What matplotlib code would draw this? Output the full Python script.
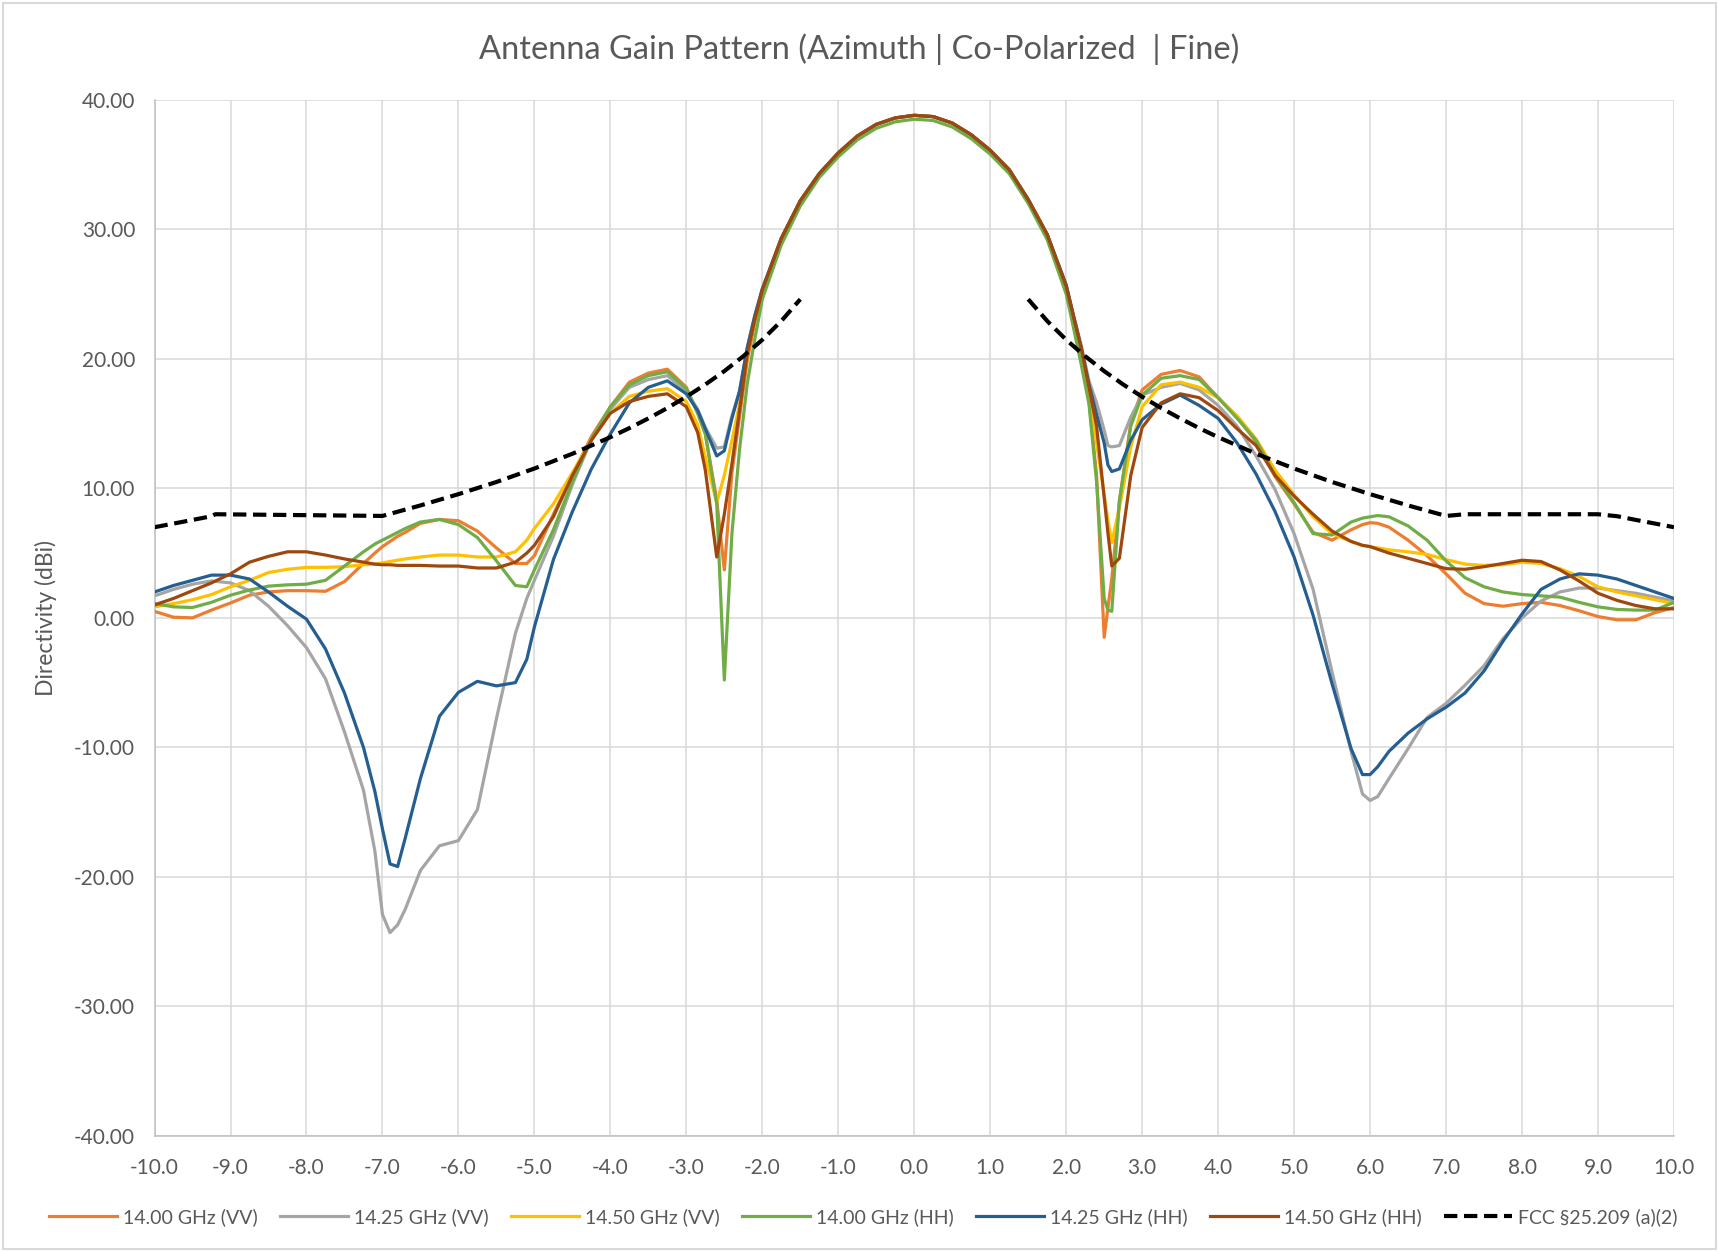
import numpy as np
import matplotlib
matplotlib.use("Agg")
import matplotlib.pyplot as plt
from matplotlib.patches import Rectangle
from matplotlib.ticker import MultipleLocator, FormatStrFormatter

plt.rcParams['font.family'] = ['Lato', 'DejaVu Sans']

# ---------------- data ----------------
angles = [-10.0, -9.75, -9.5, -9.25, -9.0, -8.75, -8.5, -8.25, -8.0, -7.75,
          -7.5, -7.25, -7.1, -7.0, -6.9, -6.8, -6.7, -6.5, -6.25, -6.0,
          -5.75, -5.5, -5.25, -5.1, -5.0, -4.75, -4.5, -4.25, -4.0, -3.75,
          -3.5, -3.25, -3.0, -2.85, -2.75, -2.6, -2.5, -2.4, -2.3, -2.2,
          -2.1, -2.0, -1.75, -1.5, -1.25, -1.0, -0.75, -0.5, -0.25, 0.0,
          0.25, 0.5, 0.75, 1.0, 1.25, 1.5, 1.75, 2.0, 2.1, 2.2,
          2.3, 2.4, 2.5, 2.55, 2.6, 2.7, 2.85, 3.0, 3.25, 3.5,
          3.75, 4.0, 4.25, 4.5, 4.75, 5.0, 5.25, 5.5, 5.75, 5.9,
          6.0, 6.1, 6.25, 6.5, 6.75, 7.0, 7.25, 7.5, 7.75, 8.0,
          8.25, 8.5, 8.75, 9.0, 9.25, 9.5, 9.75, 10.0]

vv_1400 = [0.5, 0.05, 0.0, 0.6, 1.15, 1.75, 2.0, 2.1, 2.1, 2.05,
           2.8, 4.2, 5.0, 5.5, 5.9, 6.3, 6.6, 7.3, 7.6, 7.5,
           6.7, 5.4, 4.2, 4.2, 4.8, 8.0, 11.0, 14.0, 16.3, 18.2,
           18.9, 19.2, 17.8, 15.8, 14.2, 9.1, 3.7, 11.2, 15.5, 19.8,
           22.8, 25.3, 29.3, 32.2, 34.3, 35.9, 37.2, 38.1, 38.6, 38.8,
           38.7, 38.2, 37.3, 36.1, 34.6, 32.3, 29.6, 25.4, 22.5, 19.8,
           16.8, 11.0, -1.5, 0.8, 3.0, 9.0, 15.0, 17.6, 18.8, 19.1,
           18.6, 17.0, 15.5, 13.6, 10.9, 8.8, 6.6, 6.0, 6.8, 7.2,
           7.35, 7.3, 7.0, 6.0, 4.8, 3.4, 1.9, 1.1, 0.9, 1.1,
           1.2, 0.95, 0.55, 0.1, -0.15, -0.15, 0.4, 0.8]

vv_1425 = [1.7, 2.2, 2.6, 2.85, 2.7, 2.1, 0.9, -0.6, -2.3, -4.7,
           -8.8, -13.3, -18.0, -22.9, -24.3, -23.7, -22.5, -19.5, -17.6, -17.2,
           -14.8, -7.8, -1.2, 1.5, 2.9, 6.3, 10.3, 13.8, 16.1, 17.8,
           18.4, 18.7, 17.5, 16.1, 14.7, 13.1, 13.2, 15.6, 17.5, 20.8,
           23.3, 25.4, 29.3, 32.2, 34.3, 35.9, 37.2, 38.1, 38.6, 38.8,
           38.7, 38.2, 37.3, 36.1, 34.6, 32.3, 29.6, 25.7, 23.3, 21.0,
           18.3, 16.6, 14.5, 13.3, 13.2, 13.3, 15.5, 17.2, 17.8, 18.1,
           17.6, 16.4, 14.8, 12.5, 9.9, 6.5, 2.2, -4.2, -10.3, -13.6,
           -14.1, -13.8, -12.4, -10.1, -7.7, -6.6, -5.2, -3.7, -1.6, 0.0,
           1.3, 2.0, 2.3, 2.3, 2.1, 1.9, 1.6, 1.3]

vv_1450 = [0.85, 1.1, 1.4, 1.8, 2.4, 2.9, 3.5, 3.75, 3.9, 3.9,
           3.95, 4.1, 4.15, 4.25, 4.35, 4.45, 4.55, 4.7, 4.85, 4.85,
           4.7, 4.7, 5.1, 6.0, 6.9, 8.8, 11.2, 13.8, 15.8, 17.1,
           17.5, 17.7, 16.7, 14.9, 12.4, 8.9, 11.0, 13.7, 16.5, 20.3,
           23.0, 25.3, 29.3, 32.2, 34.3, 35.9, 37.2, 38.1, 38.6, 38.8,
           38.7, 38.2, 37.3, 36.1, 34.6, 32.3, 29.6, 25.6, 23.0, 20.5,
           17.5, 13.5, 9.5, 7.5, 5.8, 8.5, 13.2, 16.3, 18.0, 18.2,
           17.8, 17.0, 15.6, 13.8, 11.4, 9.5, 7.8, 6.5, 5.9, 5.6,
           5.5, 5.4, 5.25, 5.1, 4.9, 4.5, 4.15, 4.05, 4.1, 4.3,
           4.2, 3.8, 3.2, 2.4, 2.0, 1.7, 1.4, 1.1]

hh_1400 = [1.1, 0.85, 0.8, 1.2, 1.75, 2.15, 2.45, 2.55, 2.6, 2.9,
           4.0, 5.1, 5.7, 6.0, 6.3, 6.6, 6.9, 7.4, 7.6, 7.2,
           6.2, 4.4, 2.5, 2.4, 3.7, 6.8, 10.5, 13.8, 16.3, 18.0,
           18.7, 19.0, 17.7, 15.8, 14.2, 8.8, -4.8, 6.5, 13.0, 18.0,
           21.5, 24.6, 28.8, 31.8, 34.0, 35.6, 36.9, 37.8, 38.3, 38.5,
           38.4, 37.9, 37.0, 35.8, 34.3, 32.0, 29.2, 25.0, 22.3, 19.5,
           16.5, 10.5, 1.5, 0.6, 0.5, 9.0, 14.8, 17.2, 18.5, 18.7,
           18.4, 17.0, 15.4, 13.7, 11.0, 8.9, 6.5, 6.4, 7.4, 7.7,
           7.8, 7.9, 7.8, 7.1, 6.0, 4.4, 3.1, 2.4, 2.0, 1.8,
           1.7, 1.6, 1.2, 0.85, 0.65, 0.6, 0.6, 1.2]

hh_1425 = [2.0, 2.5, 2.9, 3.3, 3.3, 3.0, 2.0, 0.9, -0.1, -2.4,
           -5.8, -10.0, -13.4, -16.3, -19.0, -19.2, -17.0, -12.4, -7.6, -5.75,
           -4.9, -5.25, -5.0, -3.2, -0.7, 4.5, 8.2, 11.5, 14.2, 16.6,
           17.8, 18.3, 17.3, 16.0, 14.6, 12.5, 12.9, 15.4, 17.5, 20.8,
           23.3, 25.4, 29.3, 32.2, 34.3, 35.9, 37.2, 38.1, 38.6, 38.8,
           38.7, 38.2, 37.3, 36.1, 34.6, 32.3, 29.6, 25.7, 23.2, 20.8,
           18.0, 15.7, 13.5, 11.8, 11.3, 11.5, 13.7, 15.3, 16.5, 17.2,
           16.4, 15.4, 13.5, 11.1, 8.2, 4.7, 0.2, -5.1, -10.1, -12.1,
           -12.1, -11.5, -10.3, -8.9, -7.8, -6.9, -5.8, -4.1, -1.8, 0.3,
           2.2, 3.0, 3.4, 3.3, 3.0, 2.5, 2.0, 1.5]

hh_1450 = [1.0, 1.5, 2.1, 2.7, 3.4, 4.3, 4.75, 5.1, 5.1, 4.85,
           4.55, 4.3, 4.15, 4.1, 4.1, 4.05, 4.05, 4.05, 4.0, 4.0,
           3.85, 3.85, 4.3, 5.0, 5.6, 7.8, 11.0, 13.7, 15.8, 16.7,
           17.1, 17.3, 16.3, 14.3, 11.4, 4.7, 8.0, 11.9, 16.0, 20.3,
           23.0, 25.3, 29.3, 32.2, 34.3, 35.9, 37.2, 38.1, 38.6, 38.8,
           38.7, 38.2, 37.3, 36.1, 34.6, 32.3, 29.6, 25.6, 23.2, 20.8,
           17.8, 14.8, 9.3, 6.5, 4.0, 4.6, 11.0, 14.7, 16.6, 17.3,
           17.0, 16.0, 14.6, 13.3, 11.0, 9.4, 8.0, 6.7, 5.9, 5.6,
           5.5, 5.3, 5.0, 4.6, 4.2, 3.8, 3.75, 3.95, 4.2, 4.45,
           4.35, 3.7, 2.85, 1.9, 1.35, 0.95, 0.7, 0.7]

fcc_angles = [-10.0, -9.75, -9.5, -9.25, -9.2, -7.0, -6.5, -6.0, -5.5, -5.0,
              -4.5, -4.0, -3.75, -3.5, -3.25, -3.0, -2.75, -2.5, -2.25, -2.0,
              -1.75, -1.5, 0.0,
              1.5, 1.75, 2.0, 2.25, 2.5, 2.75, 3.0, 3.25, 3.5, 3.75,
              4.0, 4.5, 5.0, 5.5, 6.0, 6.5, 7.0, 7.25, 9.0, 9.25,
              9.5, 9.75, 10.0]
fcc_limit = [7.00, 7.28, 7.56, 7.85, 8.00, 7.87, 8.68, 9.55, 10.49, 11.53,
             12.67, 13.95, 14.65, 15.40, 16.20, 17.07, 18.02, 19.05, 20.20, 21.47,
             22.92, 24.60, np.nan,
             24.60, 22.92, 21.47, 20.20, 19.05, 18.02, 17.07, 16.20, 15.40, 14.65,
             13.95, 12.67, 11.53, 10.49, 9.55, 8.68, 7.87, 8.00, 8.00, 7.85,
             7.56, 7.28, 7.00]

series_labels = ["14.00 GHz (VV)", "14.25 GHz (VV)", "14.50 GHz (VV)",
                 "14.00 GHz (HH)", "14.25 GHz (HH)", "14.50 GHz (HH)"]
fcc_label = "FCC \u00a725.209 (a)(2)"
title = "Antenna Gain Pattern (Azimuth | Co-Polarized  | Fine)"
y_label = "Directivity (dBi)"

# ---------------- styling ----------------
colors = ["#ED7D31", "#A5A5A5", "#FFC000", "#70AD47", "#255E91", "#9E480E"]
text_color = "#595959"
grid_color = "#D9D9D9"

fig = plt.figure(figsize=(17.19, 12.52), dpi=100)
ax = fig.add_axes([0.0899, 0.0927, 0.8839, 0.8276])

series = [vv_1400, vv_1425, vv_1450, hh_1400, hh_1425, hh_1450]
handles = []
for vals, c, lab in zip(series, colors, series_labels):
    h, = ax.plot(angles, vals, color=c, lw=2.3, label=lab,
                 solid_joinstyle='round', zorder=3)
    handles.append(h)
hf, = ax.plot(fcc_angles, fcc_limit, color='black', lw=3.0,
              dashes=(3.2, 1.6), label=fcc_label, zorder=4)
handles.append(hf)

ax.set_xlim(-10, 10)
ax.set_ylim(-40, 40)
ax.xaxis.set_major_locator(MultipleLocator(1))
ax.yaxis.set_major_locator(MultipleLocator(10))
ax.xaxis.set_major_formatter(FormatStrFormatter('%.1f'))
ax.yaxis.set_major_formatter(FormatStrFormatter('%.2f'))
ax.grid(True, color=grid_color, lw=1.1, zorder=0)
ax.set_axisbelow(True)
for s in ['top', 'right']:
    ax.spines[s].set_visible(False)
for s in ['left', 'bottom']:
    ax.spines[s].set_color("#BFBFBF")
    ax.spines[s].set_linewidth(1.1)
ax.tick_params(axis='both', length=0, labelsize=15, labelcolor=text_color)
ax.tick_params(axis='x', pad=16)
ax.tick_params(axis='y', pad=14)

ax.set_ylabel(y_label, fontsize=16.5, color=text_color, labelpad=12)
fig.text(0.5, 0.961, title, ha='center', va='center', fontsize=23.5,
         color=text_color)

leg = fig.legend(handles=handles, loc='center', bbox_to_anchor=(0.502, 0.028),
                 ncol=7, frameon=False, fontsize=14, handlelength=3.5,
                 handletextpad=0.3, columnspacing=1.15)
for t in leg.get_texts():
    t.set_color(text_color)

fig.patches.append(Rectangle((0.002, 0.002), 0.996, 0.996,
                             transform=fig.transFigure, fill=False,
                             edgecolor=grid_color, lw=1.5))

fig.savefig("out.png", dpi=100, facecolor='white')
